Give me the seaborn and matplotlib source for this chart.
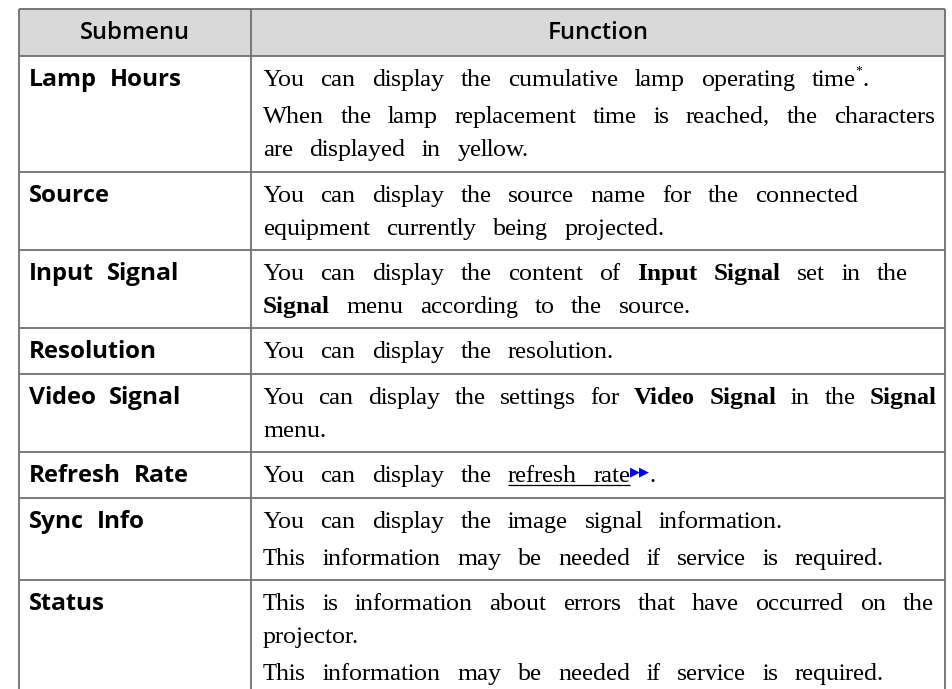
import matplotlib
matplotlib.use("Agg")
import matplotlib.pyplot as plt
import seaborn as sns

# ---------------- data ----------------
headers = ["Submenu", "Function"]
submenus = ["Lamp Hours", "Source", "Input Signal", "Resolution",
            "Video Signal", "Refresh Rate", "Sync Info", "Status"]
# markup: {bold}, _underline_, ^x superscript, @ link icon
lamp_hours_text = [["You can display the cumulative lamp operating time^*."],
                   ["When the lamp replacement time is reached, the characters",
                    "are displayed in yellow."]]
source_text = [["You can display the source name for the connected",
                "equipment currently being projected."]]
input_signal_text = [["You can display the content of {Input Signal} set in the",
                      "{Signal} menu according to the source."]]
resolution_text = [["You can display the resolution."]]
video_signal_text = [["You can display the settings for {Video Signal} in the {Signal}",
                      "menu."]]
refresh_rate_text = [["You can display the _refresh rate_@."]]
sync_info_text = [["You can display the image signal information."],
                  ["This information may be needed if service is required."]]
status_text = [["This is information about errors that have occurred on the",
                "projector."],
               ["This information may be needed if service is required."]]
functions = [lamp_hours_text, source_text, input_signal_text, resolution_text,
             video_signal_text, refresh_rate_text, sync_info_text, status_text]

# ---------------- style ----------------
sns.set_theme(style="white")
plt.rcParams['font.family'] = ['DejaVu Sans']
plt.rcParams['text.hinting'] = 'native'
plt.rcParams['text.hinting_factor'] = 1

W, H = 953, 689
X_LEFT, X_DIV, X_RIGHT = 19, 251, 945
Y_TOP, Y_HEAD = 9, 56
TEXT_X, TEXT_RIGHT = 263, 937
SERIF = ['Liberation Serif', 'DejaVu Serif']
SANS = ['Open Sans', 'DejaVu Sans']
SERIF_SIZE = 18
SANS_SIZE = 17
WORD_GAP = 16.5
LEFT_GAP = 13
FIRST_BASE = 30
LINE_PITCH = 33
PARA_EXTRA = 4
ROW_PAD = 12.5
LINE_COL = '#6f6f6f'

fig = plt.figure(figsize=(W / 100, H / 100), dpi=100)
ax = fig.add_axes([0, 0, 1, 1])
ax.set_xlim(0, W)
ax.set_ylim(H, 0)
ax.axis('off')
renderer = fig.canvas.get_renderer()


def width_of(t):
    return t.get_window_extent(renderer).width


def parse_line(s):
    """Return list of words; each word = list of pieces (text, bold, under, kind)."""
    words, cur, buf = [], [], ''
    bold = under = False
    sup_next = False

    def flush():
        nonlocal buf
        if buf:
            cur.append((buf, bold, under, 'txt'))
            buf = ''

    for ch in s:
        if sup_next:
            flush()
            cur.append((ch, bold, under, 'sup'))
            sup_next = False
        elif ch == ' ':
            flush()
            if cur:
                words.append(cur)
            cur = []
        elif ch in '{}':
            flush()
            bold = not bold
        elif ch == '_':
            flush()
            under = not under
        elif ch == '^':
            sup_next = True
        elif ch == '@':
            flush()
            cur.append(('\u25B6\u25B6', False, False, 'icon'))
        else:
            buf += ch
    flush()
    if cur:
        words.append(cur)
    return words


def place_word(x, y, word, under_spans, keep=True):
    for text, bold, under, kind in word:
        if kind == 'txt':
            t = ax.text(x, y, text, family=SERIF, fontsize=SERIF_SIZE,
                        weight='bold' if bold else 'normal',
                        color='#000000', va='baseline', ha='left')
            w = width_of(t)
            if under:
                under_spans.append((x, x + w))
            x += w
        elif kind == 'sup':
            t = ax.text(x - 0.5, y - 10, text, family=SERIF,
                        fontsize=SERIF_SIZE * 0.55, color='#000000',
                        va='baseline', ha='left')
            x += width_of(t) - 0.5
        else:  # link icon
            t = ax.text(x - 1, y - 7, text, family=['DejaVu Sans'],
                        fontsize=9.5, color='#0000ff',
                        va='baseline', ha='left')
            x += width_of(t) - 1
        if not keep:
            t.remove()
    return x


def draw_serif_line(x0, y, s):
    words = parse_line(s)
    # measure natural extent
    x = x0
    end = x0
    for word in words:
        end = place_word(x, y, word, [], keep=False)
        x = end + WORD_GAP
    gap = WORD_GAP
    if end > TEXT_RIGHT and len(words) > 1:
        gap = WORD_GAP - (end - TEXT_RIGHT) / (len(words) - 1)
    under_spans = []
    x = x0
    for word in words:
        x = place_word(x, y, word, under_spans) + gap
    if under_spans:
        a = min(p for p, q in under_spans)
        b = max(q for p, q in under_spans)
        ax.plot([a, b], [y + 3, y + 3], color='#000000', lw=0.9,
                solid_capstyle='butt')


def draw_sans_words(x, y, s):
    for word in s.split(' '):
        t = ax.text(x, y, word, family=SANS, fontsize=SANS_SIZE, weight='bold',
                    color='#000000', va='baseline', ha='left')
        x += width_of(t) + LEFT_GAP


# header
ax.fill_between([X_LEFT, X_RIGHT], Y_TOP, Y_HEAD, color='#d9d9d9', lw=0)
ax.text((X_LEFT + X_DIV) / 2, 33, headers[0], family=SANS, fontsize=SANS_SIZE,
        weight='semibold', ha='center', va='center', color='#000000')
ax.text((X_DIV + X_RIGHT) / 2, 33, headers[1], family=SANS, fontsize=SANS_SIZE,
        weight='semibold', ha='center', va='center', color='#000000')

# rows
row_top = float(Y_HEAD)
bounds = [Y_TOP, Y_HEAD]
for name, paras in zip(submenus, functions):
    top = round(row_top)
    baseline = top + FIRST_BASE
    draw_sans_words(29, baseline, name)
    y = baseline
    n_lines = 0
    for pi, para in enumerate(paras):
        if pi > 0:
            y += PARA_EXTRA
        for line in para:
            draw_serif_line(TEXT_X, y, line)
            y += LINE_PITCH
            n_lines += 1
    row_top += ROW_PAD + LINE_PITCH * n_lines + PARA_EXTRA * (len(paras) - 1)
    bounds.append(round(row_top))

for yb in bounds:
    if yb < H:
        ax.plot([X_LEFT, X_RIGHT], [yb, yb], color=LINE_COL, lw=1.3,
                solid_capstyle='butt')
for xb in (X_LEFT, X_DIV, X_RIGHT):
    ax.plot([xb, xb], [Y_TOP, H + 5], color=LINE_COL, lw=1.3,
            solid_capstyle='butt')

fig.savefig('out.png', dpi=100, facecolor='white')
